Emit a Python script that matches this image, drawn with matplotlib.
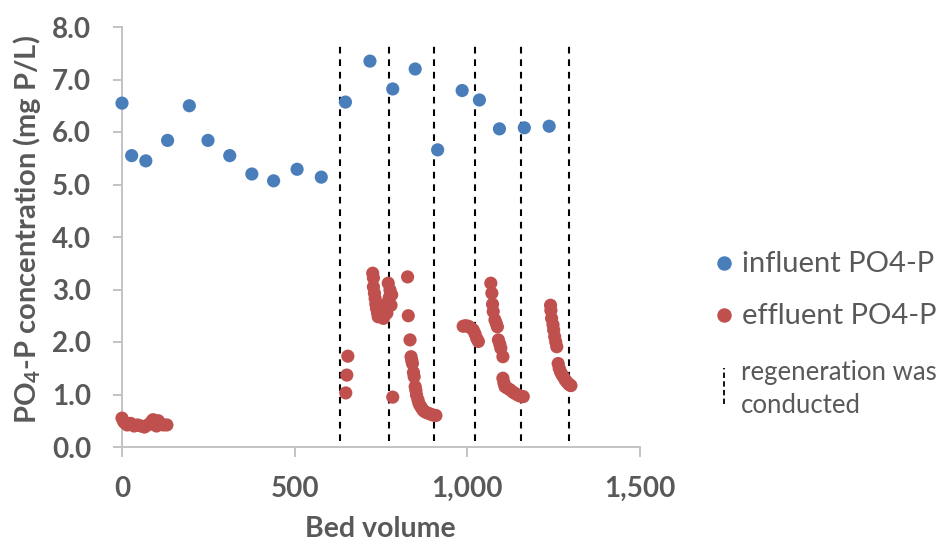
import matplotlib
matplotlib.use("Agg")
import matplotlib.pyplot as plt
from matplotlib.lines import Line2D

plt.rcParams['font.family'] = ['Lato', 'DejaVu Sans']
plt.rcParams['mathtext.fontset'] = 'custom'
plt.rcParams['mathtext.rm'] = 'Lato:bold'
plt.rcParams['mathtext.it'] = 'Lato:bold'
plt.rcParams['mathtext.bf'] = 'Lato:bold'
plt.rcParams['mathtext.default'] = 'rm'

# Influent PO4-P (mg P/L) vs bed volume
influent_bv = [0, 28, 69, 132, 195, 249, 312, 376, 439, 507, 577,
               647, 718, 784, 849, 914, 985, 1035, 1093, 1165, 1237]
influent_p = [6.55, 5.55, 5.45, 5.84, 6.50, 5.84, 5.55, 5.20, 5.07, 5.29, 5.14,
              6.57, 7.35, 6.82, 7.20, 5.66, 6.79, 6.61, 6.06, 6.08, 6.11]

# Effluent PO4-P (mg P/L) vs bed volume
effluent_bv = [0, 5, 10, 15, 25, 35, 45, 55, 65, 75, 85, 90, 95, 100, 105, 110, 120, 130,
               648, 651, 654,
               726, 728, 728, 731, 733, 735, 737, 740, 742, 746, 752, 757, 762, 767, 767,
               771, 774, 776, 781, 779,
               784,
               827, 829, 834, 837, 839, 841, 844, 846, 849, 851, 853, 857, 860, 864, 868,
               872, 877, 884, 892, 900, 909,
               988, 995, 1003, 1010, 1017, 1022, 1027, 1032,
               1068, 1071, 1073, 1075, 1080, 1084, 1087, 1090, 1094, 1097, 1103, 1103,
               1106, 1109, 1116, 1124, 1131, 1138, 1146, 1153, 1162,
               1241, 1242, 1244, 1248, 1250, 1253, 1256, 1259, 1263, 1266, 1270, 1274,
               1278, 1283, 1288, 1293, 1297, 1300]
effluent_p = [0.55, 0.48, 0.45, 0.42, 0.45, 0.40, 0.42, 0.40, 0.38, 0.42, 0.48, 0.52,
              0.45, 0.40, 0.50, 0.45, 0.42, 0.42,
              1.03, 1.37, 1.73,
              3.31, 3.22, 3.05, 2.93, 2.83, 2.72, 2.64, 2.55, 2.48, 2.62, 2.58, 2.45, 2.68,
              2.74, 2.55, 3.12, 2.85, 2.99, 2.90, 2.70,
              0.95,
              3.24, 2.50, 2.04, 1.72, 1.65, 1.59, 1.42, 1.34, 1.15, 1.08, 0.99, 0.90, 0.83,
              0.78, 0.74, 0.70, 0.67, 0.65, 0.63, 0.61, 0.60,
              2.30, 2.31, 2.30, 2.27, 2.23, 2.16, 2.07, 2.01,
              3.12, 2.93, 2.72, 2.58, 2.42, 2.35, 2.29, 2.04, 1.96, 1.88, 1.72, 1.31,
              1.22, 1.15, 1.12, 1.09, 1.05, 1.02, 0.99, 0.97, 0.96,
              2.70, 2.60, 2.45, 2.33, 2.23, 2.10, 2.00, 1.91, 1.59, 1.50, 1.43, 1.38,
              1.34, 1.28, 1.24, 1.20, 1.18, 1.17]

# Bed volumes at which regeneration was conducted
regen_bv = [631, 773, 904, 1022, 1156, 1294]
regen_span = (0.12, 7.65)

x_ticks = [0, 500, 1000, 1500]
x_tick_labels = ["0", "500", "1,000", "1,500"]
y_ticks = [0, 1, 2, 3, 4, 5, 6, 7, 8]

legend_labels = ["influent PO4-P", "effluent PO4-P", "regeneration was\nconducted"]

BLUE = "#4a7ebb"
RED = "#c0504d"
TEXT = "#595959"
AXIS = "#c3c3c3"

W, H = 940, 545
fig = plt.figure(figsize=(W / 100, H / 100), dpi=100)
ax = fig.add_axes([122 / W, 1 - 447 / H, 518 / W, 420 / H])

ax.vlines(regen_bv, regen_span[0], regen_span[1], colors="black",
          linestyles=(0, (3.2, 2.8)), linewidth=1.5, zorder=1)
ax.scatter(influent_bv, influent_p, s=90, color=BLUE, edgecolors="none",
           zorder=3, clip_on=False)
ax.scatter(effluent_bv, effluent_p, s=90, color=RED, edgecolors="none",
           zorder=3, clip_on=False)

ax.set_xlim(0, 1500)
ax.set_ylim(0, 8)
ax.set_xticks(x_ticks)
ax.set_xticklabels(x_tick_labels)
ax.set_yticks(y_ticks)
ax.set_yticklabels([f"{v:.1f}" for v in y_ticks])

for side in ("top", "right"):
    ax.spines[side].set_visible(False)
for side in ("left", "bottom"):
    ax.spines[side].set_color(AXIS)
    ax.spines[side].set_linewidth(1.4)

ax.tick_params(axis="both", colors=AXIS, labelcolor=TEXT, width=1.4, labelsize=20)
ax.tick_params(axis="x", length=7.2, pad=13.5)
ax.tick_params(axis="y", length=6.8, pad=15.5)
for lbl in ax.get_xticklabels() + ax.get_yticklabels():
    lbl.set_fontweight("bold")

ax.set_xlabel("Bed volume", fontsize=20.5, fontweight="bold", color=TEXT)
ax.xaxis.label.set_va("baseline")
ax.xaxis.set_label_coords(0.498, -0.214)

ax.set_ylabel(r"PO$_4$-P concentration (mg P/L)", fontsize=21,
              fontweight="bold", color=TEXT)
ax.yaxis.label.set_va("center")
ax.yaxis.label.set_ha("center")
ax.yaxis.set_label_coords(-0.1834, 0.519)


def fpos(px, py):
    return px / W, 1 - py / H


# Legend, laid out to the right of the plot area
mx = 724
for (py, color, label) in [(263, BLUE, legend_labels[0]), (315, RED, legend_labels[1])]:
    fig.add_artist(Line2D([fpos(mx, py)[0]], [fpos(mx, py)[1]], marker="o",
                          markersize=9.4, color=color, linestyle="none",
                          transform=fig.transFigure))
    fig.text(*fpos(742, py + 9), label, fontsize=21, color=TEXT,
             ha="left", va="baseline")

x0, y_top = fpos(mx, 368)
_, y_bot = fpos(mx, 404)
fig.add_artist(Line2D([x0, x0], [y_bot, y_top], color="black",
                      linestyle=(0, (3.0, 1.8)), linewidth=1.3,
                      transform=fig.transFigure))
fig.text(*fpos(741, 413), legend_labels[2], fontsize=18.5, color=TEXT,
         ha="left", va="baseline", linespacing=1.38)

fig.savefig("out.png", dpi=100)
